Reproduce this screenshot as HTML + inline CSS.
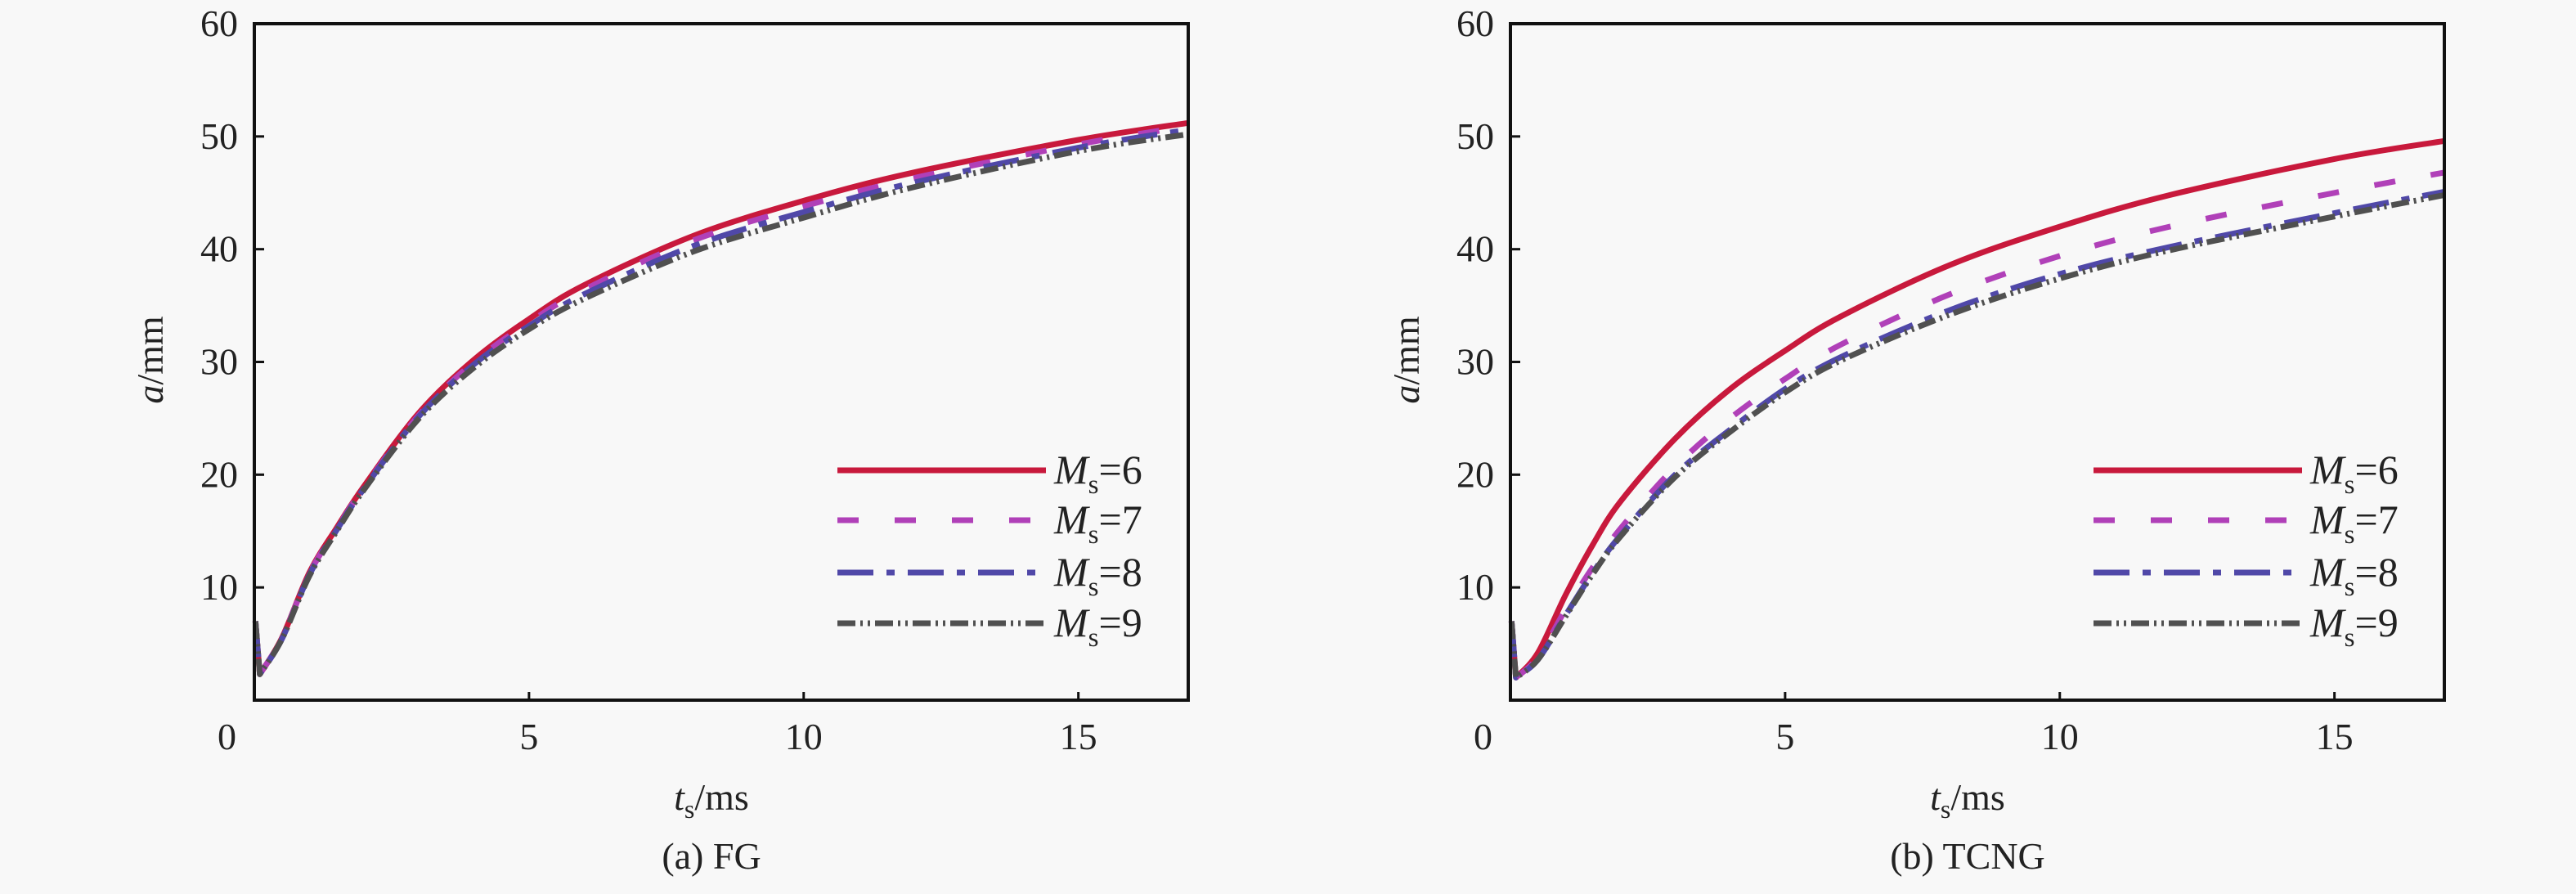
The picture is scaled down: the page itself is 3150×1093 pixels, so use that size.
<!DOCTYPE html>
<html><head><meta charset="utf-8"><style>
html,body{margin:0;padding:0;background:#f8f8f8;}
svg{display:block;font-family:"Liberation Serif",serif;}
</style></head><body>
<svg id="chart" width="3150" height="1093" viewBox="0 0 3150 1093" xmlns="http://www.w3.org/2000/svg">
<rect width="3150" height="1093" fill="#f8f8f8"/>
</svg>
<script>
const xVals=[0.1,0.5,1,1.5,2,3,4,5,6,8,10,12,15,17];
const fgMs6=[2.3,5.5,11.3,15.3,19,25.5,30.2,33.8,36.8,41.2,44.3,46.8,49.7,51.2];
const fgMs7=[2.3,5.5,11.2,15.2,18.9,25.3,30,33.5,36.4,40.8,43.8,46.3,49.3,50.9];
const fgMs8=[2.3,5.4,11.1,15.1,18.8,25.2,29.8,33.2,36,40.3,43.3,45.9,49,50.6];
const fgMs9=[2.3,5.4,11,15,18.7,25,29.5,32.9,35.6,39.8,42.8,45.5,48.7,50.2];
const tcMs6=[2,4.2,9.3,13.8,17.6,23.2,27.6,31,34,38.6,42,44.8,48,49.6];
const tcMs7=[2,3.8,8,11.8,15.2,20.7,25,28.5,31.5,36,39.4,42,45,46.8];
const tcMs8=[2,3.6,7.5,11.3,14.6,20,24,27.6,30.4,34.6,37.8,40.2,43.2,45.1];
const tcMs9=[2,3.6,7.4,11.2,14.5,19.8,23.8,27.3,30.1,34.2,37.4,39.9,42.9,44.8];
const xTicks=[0,5,10,15];
const yTicks=[10,20,30,40,50,60];
const seriesNames=["6","7","8","9"];
const colors=["#c8193c","#b040b8","#5048a8","#505050"];
const dashes=["none","26 44","44 16 10 16","22 6 3 6 3 6"];
const NS="http://www.w3.org/2000/svg";
const svg=document.getElementById('chart');
function mk(tag,attrs,parent){const e=document.createElementNS(NS,tag);for(const k in attrs)e.setAttribute(k,attrs[k]);(parent||svg).appendChild(e);return e;}
function smooth(pts){
  let d='M'+pts[0][0].toFixed(1)+','+pts[0][1].toFixed(1);
  for(let i=0;i<pts.length-1;i++){
    const p0=pts[Math.max(i-1,0)],p1=pts[i],p2=pts[i+1],p3=pts[Math.min(i+2,pts.length-1)];
    const c1x=p1[0]+(p2[0]-p0[0])/6,c1y=p1[1]+(p2[1]-p0[1])/6;
    const c2x=p2[0]-(p3[0]-p1[0])/6,c2y=p2[1]-(p3[1]-p1[1])/6;
    d+=' C'+c1x.toFixed(1)+','+c1y.toFixed(1)+' '+c2x.toFixed(1)+','+c2y.toFixed(1)+' '+p2[0].toFixed(1)+','+p2[1].toFixed(1);
  }
  return d;
}
function panel(off,sets,caption,pname){
  const L=311+off,R=1453+off,T=29,B=856;
  const sx=v=>L+v*(R-L)/17, sy=v=>B-v*(B-T)/60;
  const g=mk('g',{});
  
  
  sets.forEach((arr,i)=>{
    const pts=xVals.map((x,j)=>[sx(x),sy(arr[j])]);
    let d='M'+sx(0.02)+','+sy(7)+' L'+pts[0][0].toFixed(1)+','+pts[0][1].toFixed(1)+' '+smooth(pts).replace(/^M[^ ]+/,'');
    const p=mk('path',{d:d,fill:'none',stroke:colors[i],'stroke-width':7,'stroke-dasharray':dashes[i],'stroke-linejoin':'round'},g);
    
    
  });
  const fr=mk('rect',{x:L,y:T,width:R-L,height:B-T,fill:'none',stroke:'#111','stroke-width':4},g);
  
  
  yTicks.forEach(v=>{
    mk('line',{x1:L,x2:L+12,y1:sy(v),y2:sy(v),stroke:'#111','stroke-width':3},g);
    const t=mk('text',{x:L-20,y:sy(v)+15,'font-size':46,'text-anchor':'end',fill:'#222'},g);
    t.textContent=v;
    
    
  });
  xTicks.forEach(v=>{
    if(v>0)mk('line',{x1:sx(v),x2:sx(v),y1:B,y2:B-10,stroke:'#111','stroke-width':3},g);
    const t=mk('text',{x:v===0?L-22:sx(v),y:916,'font-size':46,'text-anchor':v===0?'end':'middle',fill:'#222'},g);
    t.textContent=v;
    
    
  });
  const xt=mk('text',{x:(L+R)/2-12,y:990,'font-size':46,'text-anchor':'middle',fill:'#222'},g);
  xt.innerHTML='<tspan font-style="italic">t</tspan><tspan font-size="32" dy="10">s</tspan><tspan dy="-10">/ms</tspan>';
  
  
  const yt=mk('text',{x:0,y:0,'font-size':46,'text-anchor':'middle',fill:'#222',transform:'translate('+(L-112)+',440) rotate(-90)'},g);
  yt.innerHTML='<tspan font-style="italic">a</tspan>/mm';
  
  
  const cp=mk('text',{x:(L+R)/2-12,y:1062,'font-size':46,'text-anchor':'middle',fill:'#222'},g);
  cp.textContent=caption;
  
  
  const rows=[575,636,700,762];
  seriesNames.forEach((n,i)=>{
    const lg=mk('g',{},g);
    
    
    mk('line',{x1:1024+off,x2:1279+off,y1:rows[i],y2:rows[i],stroke:colors[i],'stroke-width':7,'stroke-dasharray':dashes[i]},lg);
    const t=mk('text',{x:1289+off,y:rows[i]+16,'font-size':50,fill:'#222'},lg);
    t.innerHTML='<tspan font-style="italic">M</tspan><tspan font-size="33" dy="12">s</tspan><tspan dy="-12">='+n+'</tspan>';
  });
}
panel(0,[fgMs6,fgMs7,fgMs8,fgMs9],'(a) FG','panel-a-fg');
panel(1536,[tcMs6,tcMs7,tcMs8,tcMs9],'(b) TCNG','panel-b-tcng');
</script>
</body></html>
